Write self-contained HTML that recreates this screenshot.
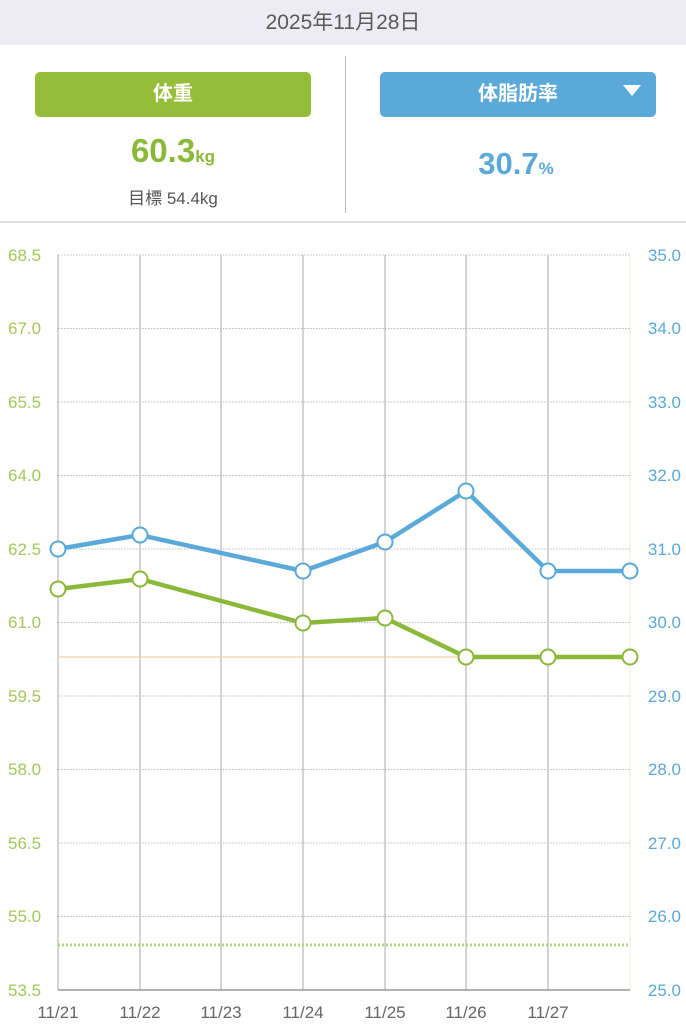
<!DOCTYPE html><html><head><style>body{margin:0;width:686px;height:1024px;background:#fff;font-family:"Liberation Sans","Noto Sans CJK JP",sans-serif;overflow:hidden;position:relative}
.hd{position:absolute;left:0;top:0;width:686px;height:45px;background:#ececf2;text-align:center;line-height:46px;font-size:21px;color:#5a5a5a}
.b{position:absolute;top:72px;height:45px;border-radius:5px;color:#fff;font-size:20px;font-weight:bold;text-align:center;line-height:45px}
</style></head><body>
<div class="hd">2025年11月28日</div>
<div class="b" style="left:35px;width:276px;background:#95bd38">体重</div>
<div class="b" style="left:380px;width:276px;background:#5aa9d9">体脂肪率<span style="position:absolute;right:15px;top:13px;width:0;height:0;border-left:9px solid transparent;border-right:9px solid transparent;border-top:11px solid #fff"></span></div>
<div style="position:absolute;left:0;width:346px;top:132px;text-align:center;color:#8cb83a;font-size:33px;font-weight:bold">60.3<span style="font-size:17px">kg</span></div>
<div style="position:absolute;left:0;width:346px;top:184px;text-align:center;color:#555;font-size:17px">目標 54.4kg</div>
<div style="position:absolute;left:346px;width:340px;top:146px;text-align:center;color:#5aa9d9;font-size:31px;font-weight:bold">30.7<span style="font-size:17px">%</span></div>
<div style="position:absolute;left:345px;top:56px;width:1px;height:157px;background:#bbb"></div>
<div style="position:absolute;left:0;top:221px;width:686px;height:2px;background:#ddd"></div>
<svg width="686" height="1024" style="position:absolute;left:0;top:0" font-family="Liberation Sans,sans-serif" font-size="17">
<g stroke="#bbb" stroke-dasharray="1.5,1.5">
<line x1="58" x2="630" y1="255" y2="255"/><line x1="58" x2="630" y1="328.5" y2="328.5"/><line x1="58" x2="630" y1="402" y2="402"/><line x1="58" x2="630" y1="475.5" y2="475.5"/><line x1="58" x2="630" y1="549" y2="549"/><line x1="58" x2="630" y1="622.5" y2="622.5"/><line x1="58" x2="630" y1="696" y2="696"/><line x1="58" x2="630" y1="769.5" y2="769.5"/><line x1="58" x2="630" y1="843" y2="843"/><line x1="58" x2="630" y1="916.5" y2="916.5"/></g>
<g stroke="#aaa"><line x1="58" x2="58" y1="255" y2="990"/><line x1="140" x2="140" y1="255" y2="990"/><line x1="221" x2="221" y1="255" y2="990"/><line x1="303" x2="303" y1="255" y2="990"/><line x1="385" x2="385" y1="255" y2="990"/><line x1="466" x2="466" y1="255" y2="990"/><line x1="548" x2="548" y1="255" y2="990"/></g>
<line x1="630" x2="630" y1="255" y2="990" stroke="#f3ead8"/>
<line x1="58" x2="630" y1="990" y2="990" stroke="#999" stroke-width="1.5"/>
<line x1="58" x2="630" y1="945" y2="945" stroke="#b8d483" stroke-width="3" stroke-dasharray="2,2"/>
<line x1="58" x2="630" y1="657" y2="657" stroke="#f3c996" stroke-width="1"/>
<polyline fill="none" stroke="#5aa9d9" stroke-width="4.5" points="58,549 140,535 303,571 385,542 466,491 548,571 630,571"/>
<polyline fill="none" stroke="#8cb83a" stroke-width="4.5" points="58,589 140,579 303,623 385,618 466,657 548,657 630,657"/>
<g fill="#fff" stroke="#5aa9d9" stroke-width="2"><circle cx="58" cy="549" r="7.5"/><circle cx="140" cy="535" r="7.5"/><circle cx="303" cy="571" r="7.5"/><circle cx="385" cy="542" r="7.5"/><circle cx="466" cy="491" r="7.5"/><circle cx="548" cy="571" r="7.5"/><circle cx="630" cy="571" r="7.5"/></g>
<g fill="#fff" stroke="#8cb83a" stroke-width="2"><circle cx="58" cy="589" r="7.5"/><circle cx="140" cy="579" r="7.5"/><circle cx="303" cy="623" r="7.5"/><circle cx="385" cy="618" r="7.5"/><circle cx="466" cy="657" r="7.5"/><circle cx="548" cy="657" r="7.5"/><circle cx="630" cy="657" r="7.5"/></g>
<g fill="#a6c75a" text-anchor="start"><text x="8" y="261">68.5</text><text x="8" y="334">67.0</text><text x="8" y="408">65.5</text><text x="8" y="481">64.0</text><text x="8" y="555">62.5</text><text x="8" y="628">61.0</text><text x="8" y="702">59.5</text><text x="8" y="775">58.0</text><text x="8" y="849">56.5</text><text x="8" y="922">55.0</text><text x="8" y="996">53.5</text></g>
<g fill="#5aa9d9" text-anchor="end"><text x="681" y="261">35.0</text><text x="681" y="334">34.0</text><text x="681" y="408">33.0</text><text x="681" y="481">32.0</text><text x="681" y="555">31.0</text><text x="681" y="628">30.0</text><text x="681" y="702">29.0</text><text x="681" y="775">28.0</text><text x="681" y="849">27.0</text><text x="681" y="922">26.0</text><text x="681" y="996">25.0</text></g>
<g fill="#666" text-anchor="middle"><text x="58" y="1018">11/21</text><text x="140" y="1018">11/22</text><text x="221" y="1018">11/23</text><text x="303" y="1018">11/24</text><text x="385" y="1018">11/25</text><text x="466" y="1018">11/26</text><text x="548" y="1018">11/27</text></g>
</svg></body></html>
